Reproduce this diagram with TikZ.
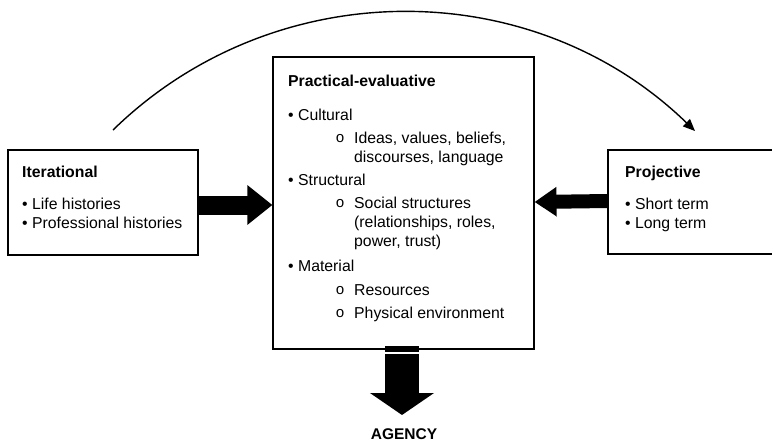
\documentclass[tikz,border=0pt]{standalone}
\usepackage{fontspec}
\setmainfont{Liberation Sans}
\newfontfamily\monof{Liberation Mono}
\usetikzlibrary{arrows.meta}
\begin{document}
\begin{tikzpicture}[x=1pt,y=-1pt,
  box/.style={draw, line width=1.1pt, inner sep=0, rectangle},
  txt/.style={inner sep=0, anchor=base west, font=\fontsize{15.8}{19}\selectfont},
  ttl/.style={txt, font=\fontsize{15.8}{19}\selectfont\bfseries},
  subdot/.style={inner sep=0, anchor=center, font=\monof\fontsize{15}{15}\selectfont},
  blockL/.style={line width=19pt, -{Triangle[length=25pt,width=38pt]}},
  blockR/.style={line width=14pt, -{Triangle[length=22pt,width=28pt]}},
  blockD/.style={line width=34pt, -{Triangle[length=22pt,width=63pt]}},
  arcarrow/.style={line width=1.4pt, -{Triangle[length=12pt,width=10pt]}}]
\useasboundingbox (0,0) rectangle (772,445);

% boxes
\node[box, minimum width=190pt, minimum height=105pt] (iter) at (103,202.5) {};
\node[box, minimum width=261pt, minimum height=292pt] (prac) at (403.5,203) {};
\node[box, minimum width=177pt, minimum height=104pt] (proj) at (696.5,202) {};

% Iterational text
\node[ttl] (t1) at (22,177) {Iterational};
\node[txt] (t2) at (22,209) {• Life histories};
\node[txt] (t3) at (22,228) {• Professional histories};

% Projective text
\node[ttl] (p1) at (625,177) {Projective};
\node[txt] (p2) at (625,209) {• Short term};
\node[txt] (p3) at (625,228) {• Long term};

% Practical-evaluative text
\node[ttl] (c0) at (288,86) {Practical-evaluative};
\node[txt] (c1) at (288,120) {• Cultural};
\node[subdot] (o1) at (340,138.5) {o};
\node[txt] (c2) at (354,143) {Ideas, values, beliefs,};
\node[txt] (c3) at (354,162) {discourses, language};
\node[txt] (c4) at (288,185) {• Structural};
\node[subdot] (o2) at (340,203.5) {o};
\node[txt] (c5) at (354,208) {Social structures};
\node[txt] (c6) at (354,227) {(relationships, roles,};
\node[txt] (c7) at (354,246) {power, trust)};
\node[txt] (c8) at (288,271) {• Material};
\node[subdot] (o3) at (340,290.5) {o};
\node[txt] (c9) at (354,295) {Resources};
\node[subdot] (o4) at (340,313.5) {o};
\node[txt] (c10) at (354,318) {Physical environment};

% AGENCY
\node[inner sep=0, font=\fontsize{15.5}{18}\selectfont\bfseries] (agency) at (404,434) {AGENCY};

% block arrows
\draw[blockL] ([yshift=-2.5pt]iter.east) -- ([yshift=-2pt]prac.west);
\draw[blockR] ([yshift=1pt]proj.west) -- ([yshift=1pt]prac.east);
\fill (385,346) rectangle (419,352);
\coordinate (dstart) at (402,354);
\coordinate (dtip) at (402,415);
\draw[blockD] (dstart) -- (dtip);

% arc
\coordinate (arcS) at (113,130);
\coordinate (arcE) at (695,131);
\draw[arcarrow] (arcS) .. controls (274,-27) and (532,-27) .. (arcE);
\end{tikzpicture}
\end{document}
